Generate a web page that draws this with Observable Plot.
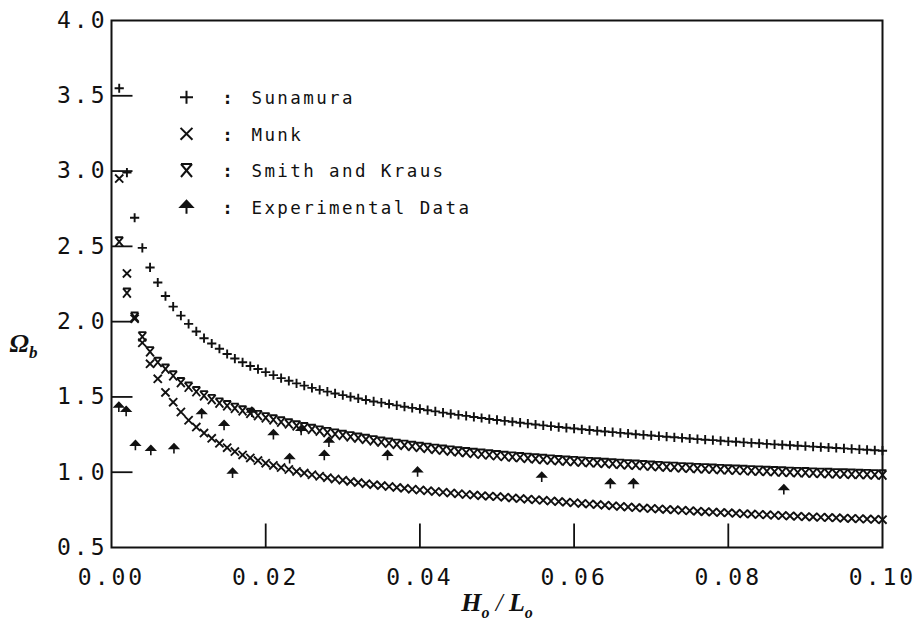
<!DOCTYPE html>
<html><head><meta charset="utf-8">
<script src="https://cdn.jsdelivr.net/npm/d3@7"></script>
<script src="https://cdn.jsdelivr.net/npm/@observablehq/plot@0.6"></script>
<style>
html,body{margin:0;padding:0;background:#fff;}
#chart{width:923px;height:633px;}
#chart g[aria-label="y-axis tick label"], #chart g[aria-label="x-axis tick label"]{font-family:"DejaVu Sans Mono",monospace;font-size:23px;letter-spacing:3px;}
</style></head><body><div id="chart"></div>
<script>
// ---- data ----
const hl = [0.001,0.002,0.003,0.004,0.005,0.006,0.007,0.008,0.009,0.010,
0.011,0.012,0.013,0.014,0.015,0.016,0.017,0.018,0.019,0.020,
0.021,0.022,0.023,0.024,0.025,0.026,0.027,0.028,0.029,0.030,
0.031,0.032,0.033,0.034,0.035,0.036,0.037,0.038,0.039,0.040,
0.041,0.042,0.043,0.044,0.045,0.046,0.047,0.048,0.049,0.050,
0.051,0.052,0.053,0.054,0.055,0.056,0.057,0.058,0.059,0.060,
0.061,0.062,0.063,0.064,0.065,0.066,0.067,0.068,0.069,0.070,
0.071,0.072,0.073,0.074,0.075,0.076,0.077,0.078,0.079,0.080,
0.081,0.082,0.083,0.084,0.085,0.086,0.087,0.088,0.089,0.090,
0.091,0.092,0.093,0.094,0.095,0.096,0.097,0.098,0.099,0.100];

const sunamura = [3.55,2.99,2.69,2.49,2.36,2.26,2.17,2.10,2.04,1.985,
1.935,1.89,1.855,1.82,1.785,1.755,1.73,1.705,1.685,1.665,
1.645,1.625,1.607,1.59,1.575,1.56,1.547,1.535,1.523,1.512,
1.501,1.49,1.48,1.47,1.462,1.453,1.444,1.435,1.427,1.42,
1.412,1.404,1.396,1.388,1.381,1.374,1.367,1.360,1.353,1.347,
1.341,1.335,1.329,1.323,1.317,1.311,1.306,1.300,1.295,1.290,
1.285,1.280,1.275,1.270,1.266,1.261,1.257,1.252,1.248,1.244,
1.240,1.236,1.232,1.228,1.224,1.220,1.216,1.213,1.209,1.205,
1.202,1.198,1.195,1.192,1.188,1.185,1.182,1.179,1.176,1.173,
1.170,1.167,1.164,1.161,1.158,1.155,1.152,1.149,1.146,1.143];

const munk = [2.95,2.32,2.02,1.86,1.72,1.62,1.53,1.465,1.40,1.345,
1.30,1.26,1.225,1.192,1.163,1.137,1.115,1.095,1.077,1.06,
1.045,1.031,1.018,1.005,0.994,0.983,0.973,0.964,0.955,0.947,
0.939,0.931,0.924,0.917,0.911,0.905,0.899,0.893,0.887,0.882,
0.877,0.872,0.867,0.862,0.857,0.852,0.848,0.844,0.841,0.838,
0.834,0.829,0.825,0.821,0.817,0.813,0.809,0.805,0.801,0.797,
0.793,0.789,0.785,0.781,0.777,0.773,0.769,0.765,0.762,0.759,
0.756,0.753,0.750,0.747,0.744,0.741,0.738,0.735,0.732,0.730,
0.727,0.724,0.722,0.719,0.717,0.714,0.712,0.710,0.707,0.705,
0.703,0.701,0.699,0.697,0.695,0.693,0.691,0.689,0.687,0.685];

const smithKraus = [2.53,2.19,2.03,1.90,1.80,1.73,1.685,1.64,1.595,1.565,
1.535,1.508,1.483,1.46,1.442,1.425,1.408,1.392,1.377,1.362,
1.348,1.334,1.321,1.308,1.296,1.285,1.274,1.264,1.254,1.245,
1.236,1.227,1.218,1.209,1.200,1.193,1.186,1.179,1.172,1.165,
1.159,1.153,1.147,1.141,1.135,1.130,1.125,1.120,1.115,1.110,
1.105,1.101,1.097,1.093,1.089,1.085,1.081,1.077,1.074,1.071,
1.068,1.065,1.062,1.059,1.056,1.053,1.050,1.047,1.044,1.041,
1.038,1.035,1.033,1.030,1.028,1.025,1.023,1.021,1.018,1.016,
1.014,1.012,1.010,1.008,1.006,1.004,1.002,1.000,0.998,0.997,
0.995,0.993,0.992,0.990,0.989,0.987,0.986,0.985,0.983,0.982];

const expX = [0.00095,0.0019,0.0031,0.0051,0.0081,0.0117,0.0146,0.0157,0.0182,0.0210,
0.0231,0.0246,0.0276,0.0282,0.0358,0.0397,0.0558,0.0647,0.0677,0.0872];
const expY = [1.432,1.404,1.178,1.145,1.156,1.388,1.311,0.994,1.399,1.249,
1.090,1.277,1.112,1.200,1.112,1.001,0.967,0.924,0.924,0.884];

const legendLabels = ["Sunamura","Munk","Smith and Kraus","Experimental Data"];
const yLabelTicks = [0.5,1.0,1.5,2.0,2.5,3.0,3.5,4.0];
const yInnerTicks = [1.0,1.5,2.0,2.5,3.0,3.5];
const xLabelTicks = [0,0.02,0.04,0.06,0.08,0.10];
const xInnerTicks = [0.02,0.04,0.06,0.08];
const xTitleMain = ["H", "L"];
const titleSub = "o";
const yTitleMain = "Ω";
const yTitleSub = "b";

// ---- styles ----
const ink = "#111";
const rad = s => Math.sqrt(s / Math.PI);
const plusSym = {draw(c, s){const r = rad(s); c.moveTo(-r,0); c.lineTo(r,0); c.moveTo(0,-r); c.lineTo(0,r);}};
const timesSym = {draw(c, s){const r = rad(s)*0.85; c.moveTo(-r,-r); c.lineTo(r,r); c.moveTo(r,-r); c.lineTo(-r,r);}};
const hourSym = {draw(c, s){const r = rad(s), w = r*0.85; c.moveTo(-w,-r); c.lineTo(w,-r); c.moveTo(-w,-r); c.lineTo(w,r); c.moveTo(w,-r); c.lineTo(-w,r);}};
const arrowSym = {draw(c, s){const r = rad(s); c.moveTo(0,-r); c.lineTo(r*0.9,-r*0.05); c.lineTo(-r*0.9,-r*0.05); c.closePath(); c.moveTo(0,-r*0.05); c.lineTo(0,r);}};
const tickRight = {draw(c){c.moveTo(0,0); c.lineTo(21,0);}};
const tickUp = {draw(c){c.moveTo(0,0); c.lineTo(0,-24);}};

const pts = ys => ys.map((y, i) => ({x: hl[i], y}));
const expPts = expX.map((x, i) => ({x, y: expY[i]}));

const legendSymbols = [plusSym, timesSym, hourSym, arrowSym];
const legendSizes = [6.5, 7, 6.5, 6.5];
const legendRowDy = [76.7, 113.3, 150, 186.7];

const legendMarks = [];
legendLabels.forEach((lab, i) => {
  const isArrow = legendSymbols[i] === arrowSym;
  legendMarks.push(Plot.dot([lab], {frameAnchor: "top-left", dx: 75, dy: legendRowDy[i], symbol: legendSymbols[i], r: legendSizes[i], stroke: ink, strokeWidth: 2, fill: isArrow ? ink : "none"}));
  legendMarks.push(Plot.text([":"], {frameAnchor: "top-left", dx: 116, dy: legendRowDy[i] - 5.6, text: d => d, textAnchor: "middle", fontFamily: "DejaVu Sans Mono", fontSize: 17.5, fontWeight: "bold", fill: ink}));
  legendMarks.push(Plot.text([lab], {frameAnchor: "top-left", dx: 140, dy: legendRowDy[i] - 5.6, text: d => d, textAnchor: "start", fontFamily: "DejaVu Sans Mono", fontSize: 17.5, fill: ink}));
});

const xTitleRaw = xTitleMain.join("/");

const svg = Plot.plot({
  width: 923, height: 633,
  marginLeft: 111, marginRight: 41, marginTop: 20, marginBottom: 86,
  style: {color: ink, background: "#fff", overflow: "visible"},
  x: {domain: [0, 0.1]},
  y: {domain: [0.5, 4.0]},
  marks: [
    Plot.frame({stroke: ink, strokeWidth: 2}),
    Plot.dot(yInnerTicks, {y: d => d, frameAnchor: "left", symbol: tickRight, r: 1, stroke: ink, strokeWidth: 1.8}),
    Plot.dot(xInnerTicks, {x: d => d, frameAnchor: "bottom", symbol: tickUp, r: 1, stroke: ink, strokeWidth: 1.8}),
    Plot.axisY({ticks: yLabelTicks, tickFormat: d => d.toFixed(1), tickSize: 0, tickPadding: 4, label: null, fontSize: 23, fill: ink}),
    Plot.axisX({ticks: xLabelTicks, tickFormat: d => d.toFixed(2), tickSize: 0, tickPadding: 21, label: null, fontSize: 23, fill: ink}),
    Plot.dot(pts(sunamura), {x: "x", y: "y", symbol: plusSym, r: 4.6, stroke: ink, strokeWidth: 1.9, fill: "none"}),
    Plot.dot(pts(munk), {x: "x", y: "y", symbol: timesSym, r: 4.8, stroke: ink, strokeWidth: 1.9, fill: "none"}),
    Plot.dot(pts(smithKraus), {x: "x", y: "y", symbol: hourSym, r: 4.6, stroke: ink, strokeWidth: 1.9, fill: "none"}),
    Plot.dot(expPts, {x: "x", y: "y", symbol: arrowSym, r: 4.8, stroke: ink, strokeWidth: 1.6, fill: ink}),
    ...legendMarks,
    Plot.text([xTitleRaw], {frameAnchor: "bottom", dy: 63, text: d => d, textAnchor: "middle", fontFamily: "Liberation Serif", fontStyle: "italic", fontWeight: "bold", fontSize: 26, fill: ink}),
    Plot.text([yTitleMain], {frameAnchor: "left", dx: -102, dy: 60, text: d => d, textAnchor: "start", fontFamily: "Liberation Serif", fontStyle: "italic", fontWeight: "bold", fontSize: 26, fill: ink})
  ]
});

const allText = d3.select(svg).selectAll("text");
// letter spacing of the plotter-style legend text
allText.filter(function(){ return legendLabels.includes(this.textContent); }).style("letter-spacing", "2.4px");
// subscripts in the axis titles
const xt = allText.filter(function(){ return this.textContent === xTitleRaw; });
xt.text(null);
xt.append("tspan").text(xTitleMain[0]);
xt.append("tspan").attr("font-size", 16).attr("dy", 7).text(titleSub);
xt.append("tspan").attr("dy", -7).attr("font-weight", "normal").attr("font-size", 25).text(" / ");
xt.append("tspan").text(xTitleMain[1]);
xt.append("tspan").attr("font-size", 16).attr("dy", 7).text(titleSub);
const yt = allText.filter(function(){ return this.textContent === yTitleMain; });
yt.append("tspan").attr("font-size", 17).attr("dy", 6).text(yTitleSub);

document.getElementById("chart").appendChild(svg);
</script></body></html>
